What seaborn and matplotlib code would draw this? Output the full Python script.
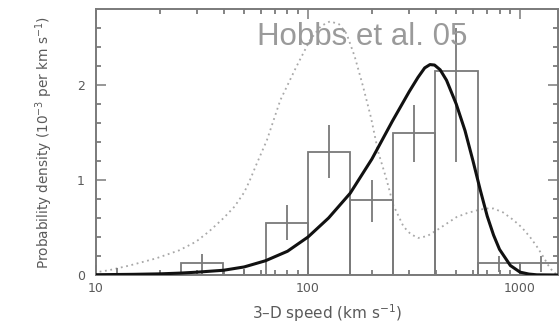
import numpy as np
import pandas as pd
import matplotlib
matplotlib.use("Agg")
import matplotlib.pyplot as plt
import seaborn as sns

# ---- data ----
bin_edges = [10, 15.85, 25.1, 39.8, 63.1, 100, 158.5, 251.2, 398.1, 631.0, 1000, 1585]
bar_heights = [0.0, 0.0, 0.13, 0.0, 0.55, 1.30, 0.79, 1.49, 2.15, 0.125, 0.125]
err_low = [0.0, 0.0, 0.12, 0.0, 0.18, 0.28, 0.23, 0.30, 0.96, 0.09, 0.09]
err_high = [0.07, 0.035, 0.09, 0.06, 0.19, 0.28, 0.21, 0.30, 0.45, 0.08, 0.08]

model_speed = [10, 15, 20, 25, 30, 40, 50, 63, 80, 100, 125, 158, 200, 250, 300,
               330, 355, 376, 395, 420, 450, 500, 550, 600, 650, 700, 750, 800,
               900, 1000, 1100, 1200, 1500]
model_density = [0.003, 0.007, 0.012, 0.02, 0.03, 0.05, 0.085, 0.15, 0.25, 0.40,
                 0.60, 0.86, 1.22, 1.62, 1.93, 2.08, 2.18, 2.215, 2.21, 2.16, 2.05,
                 1.80, 1.52, 1.20, 0.89, 0.62, 0.42, 0.27, 0.10, 0.03, 0.01,
                 0.002, 0.0]

hobbs_speed = [10.4, 11.5, 14.4, 19.2, 24.7, 29.6, 34.2, 40, 45, 50, 53, 57, 64,
               74, 88, 102, 115, 127, 140, 152, 166, 182, 198, 214, 235, 252, 282,
               305, 331, 365, 404, 450, 502, 560, 625, 690, 749, 830, 929, 1020,
               1114, 1200, 1289, 1360, 1435, 1510]
hobbs_density = [0.035, 0.05, 0.10, 0.175, 0.26, 0.35, 0.46, 0.60, 0.72, 0.87,
                 0.99, 1.16, 1.42, 1.84, 2.19, 2.47, 2.62, 2.67, 2.64, 2.54, 2.30,
                 1.98, 1.66, 1.30, 1.00, 0.74, 0.51, 0.43, 0.39, 0.41, 0.47, 0.54,
                 0.61, 0.65, 0.68, 0.70, 0.70, 0.66, 0.58, 0.50, 0.40, 0.30, 0.19,
                 0.10, 0.03, 0.0]

x_ticks = [10, 100, 1000]
x_tick_labels = ["10", "100", "1000"]
x_minor_ticks = [20, 30, 40, 50, 60, 70, 80, 90, 200, 300, 400, 500, 600, 700,
                 800, 900]
y_ticks = [0, 1, 2]
y_tick_labels = ["0", "1", "2"]
y_minor_ticks = [0.2, 0.4, 0.6, 0.8, 1.2, 1.4, 1.6, 1.8, 2.2, 2.4, 2.6]

# ---- figure ----
sns.set_style("ticks")
plt.rcParams["font.family"] = ["DejaVu Sans"]

fig = plt.figure(figsize=(5.59, 3.23), dpi=100)
ax = fig.add_axes([96 / 559, 48 / 323, 462 / 559, 266 / 323])
ax.set_xscale("log")

gray_line = "#7a7a7a"
text_gray = "#5a5a5a"

lefts = np.array(bin_edges[:-1])
rights = np.array(bin_edges[1:])
ax.bar(lefts, bar_heights, width=rights - lefts, align="edge",
       fill=False, edgecolor=gray_line, linewidth=1.3, zorder=2)

centers = np.sqrt(lefts * rights)
ax.errorbar(centers, bar_heights, yerr=[err_low, err_high], fmt="none",
            ecolor=gray_line, elinewidth=1.3, capsize=0, zorder=3)

hobbs_df = pd.DataFrame({"speed": hobbs_speed, "density": hobbs_density})
model_df = pd.DataFrame({"speed": model_speed, "density": model_density})

sns.lineplot(data=hobbs_df, x="speed", y="density", ax=ax, color="#a8a8a8",
             linewidth=1.3, linestyle=(0, (1, 2.0)), zorder=1)
sns.lineplot(data=model_df, x="speed", y="density", ax=ax, color="#111111",
             linewidth=2.2, zorder=4)

ax.set_xlim(10, 1510)
ax.set_ylim(0, 2.8)

ax.set_xticks(x_ticks)
ax.set_xticklabels(x_tick_labels)
ax.set_xticks(x_minor_ticks, minor=True)
ax.set_xticklabels([""] * len(x_minor_ticks), minor=True)
ax.set_yticks(y_ticks)
ax.set_yticklabels(y_tick_labels)
ax.set_yticks(y_minor_ticks, minor=True)
ax.set_yticklabels([""] * len(y_minor_ticks), minor=True)

ax.tick_params(which="major", direction="in", top=True, right=True,
               bottom=True, left=True, color=gray_line, labelcolor=text_gray,
               labelsize=9, length=7, width=1.1)
ax.tick_params(which="minor", direction="in", top=True, right=True,
               bottom=True, left=True, color="#707070", length=3.5, width=1.2)
ax.tick_params(axis="x", which="major", pad=5)
ax.tick_params(axis="y", which="major", pad=8)

for s in ax.spines.values():
    s.set_color(gray_line)
    s.set_linewidth(1.4)
    s.set_visible(True)

ax.set_xlabel("3\u2013D speed (km s$^{-1}$)", fontsize=11, color=text_gray, labelpad=5)
ax.set_ylabel("Probability density (10$^{-3}$ per km s$^{-1}$)", fontsize=9.8,
              color=text_gray, labelpad=16)

fig.text(257 / 559, 1 - 45 / 323, "Hobbs et al. 05", fontsize=22.5,
         family="Liberation Sans", color="#9a9a9a", ha="left", va="baseline")

fig.savefig("out.png", dpi=100)
